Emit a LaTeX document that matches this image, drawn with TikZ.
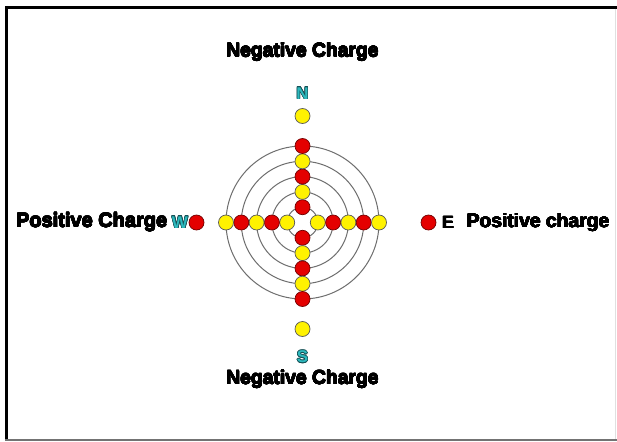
\documentclass[tikz,border=0pt]{standalone}
\usepackage{fontspec}
\setmainfont{Liberation Sans}
\usepackage[copies]{contour}
\contourlength{0.6pt}
\definecolor{ringgray}{RGB}{110,110,110}
\definecolor{dotyellow}{RGB}{255,242,0}
\definecolor{dotred}{RGB}{228,0,0}
\definecolor{compteal}{RGB}{45,185,190}
\definecolor{compdark}{RGB}{20,80,85}
\newcommand{\heavy}[1]{\contourlength{0.35pt}\contour{black}{#1}}
\begin{document}
\begin{tikzpicture}[x=1pt,y=-1pt,
  ydot/.style={circle,draw=black!65,line width=0.7pt,fill=dotyellow,minimum size=15pt,inner sep=0pt},
  rdot/.style={circle,draw=red!45!black,line width=0.7pt,fill=dotred,minimum size=15pt,inner sep=0pt},
  ring/.style={draw=ringgray,line width=1pt},
  bigtext/.style={font=\bfseries\fontsize{19.3}{22}\selectfont,inner sep=0pt},
  compass/.style={font=\bfseries\fontsize{17}{20}\selectfont,inner sep=0pt,text=compteal}
]
\useasboundingbox (0,0) rectangle (617,441);
\fill[white] (0,0) rectangle (617,441);
% frame
\draw[black,line width=3pt] (5,7.5) -- (617,7.5);
\draw[black,line width=3pt] (6.5,6) -- (6.5,441);
\draw[black!55,line width=2pt] (5,440) -- (617,440);
\draw[black!12,line width=1pt] (615.5,9) -- (615.5,439);
% rings
\coordinate (C) at (302.5,222.5);
\foreach \r in {15.3,30.6,45.9,61.2,76.5}
  \draw[ring] (C) circle (\r);
% cross of dots
\foreach \k/\s in {1/ydot,2/rdot,3/ydot,4/rdot,5/ydot} {
  \node[\s] (hl\k) at ({302.5-15.3*\k},222.5) {};
  \node[\s] (hr\k) at ({302.5+15.3*\k},222.5) {};
}
\foreach \k/\s in {1/rdot,2/ydot,3/rdot,4/ydot,5/rdot} {
  \node[\s] (vt\k) at (302.5,{222.5-15.3*\k}) {};
  \node[\s] (vb\k) at (302.5,{222.5+15.3*\k}) {};
}
% outer dots
\node[ydot] (ndot) at (302.5,116) {};
\node[ydot] (sdot) at (302.5,329) {};
\node[rdot] (wdot) at (196.5,222.5) {};
\node[rdot] (edot) at (428.5,222.5) {};
% labels
\node[bigtext] (ntext) at (302.5,52) {\heavy{Negative Charge}};
\node[bigtext] (stext) at (302.5,379.5) {\heavy{Negative Charge}};
\node[compass] (nlab) at (302.5,93.5) {\contour{compdark}{N}};
\node[compass] (slab) at (302.5,357) {\contour{compdark}{S}};
\node[compass] (wlab) at (180,222.5) {\contour{compdark}{W}};
\node[bigtext,font=\bfseries\fontsize{20}{23}\selectfont,anchor=east] (wtext) at (167.5,222.3) {\heavy{Positive Charge}};
\node[font=\bfseries\fontsize{17.5}{19}\selectfont,inner sep=0pt] (elab) at (448,222.8) {\heavy{E}};
\node[bigtext,anchor=west] (etext) at (466.5,222.8) {\heavy{Positive charge}};
\end{tikzpicture}
\end{document}
